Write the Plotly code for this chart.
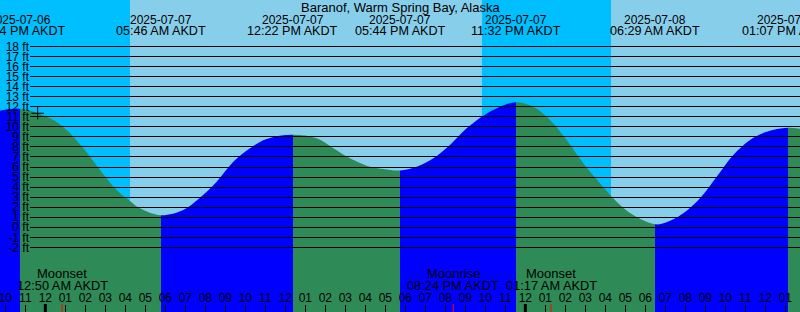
import plotly.graph_objects as go
import pandas as pd
import math

# ---------------- data ----------------
title_text = "Baranof, Warm Spring Bay, Alaska"
tz_label = "AKDT"
origin = "2025-07-07 00:00"
view_start = "2025-07-06 21:44"
view_end = "2025-07-08 13:44"

curve_times = [
    "2025-07-06 21:44", "2025-07-07 00:14", "2025-07-07 01:04", "2025-07-07 01:54",
    "2025-07-07 02:44", "2025-07-07 03:34", "2025-07-07 04:14", "2025-07-07 04:44",
    "2025-07-07 06:54", "2025-07-07 07:42", "2025-07-07 08:34", "2025-07-07 09:24",
    "2025-07-07 10:14", "2025-07-07 11:04", "2025-07-07 13:34", "2025-07-07 14:24",
    "2025-07-07 15:14", "2025-07-07 16:04", "2025-07-07 16:54", "2025-07-07 18:34",
    "2025-07-07 19:24", "2025-07-07 20:14", "2025-07-07 21:04", "2025-07-07 21:54",
    "2025-07-07 22:44", "2025-07-08 00:24", "2025-07-08 01:14", "2025-07-08 02:04",
    "2025-07-08 02:54", "2025-07-08 03:44", "2025-07-08 04:34", "2025-07-08 05:24",
    "2025-07-08 07:04", "2025-07-08 07:54", "2025-07-08 08:44", "2025-07-08 09:34",
    "2025-07-08 10:24", "2025-07-08 11:14", "2025-07-08 12:04", "2025-07-08 13:44",
]
curve_ft = [
    11.6, 10.85, 9.68, 7.86,
    5.7, 3.71, 2.62, 1.89,
    1.72, 2.88, 4.54, 6.53,
    7.86, 8.79, 8.85, 7.86,
    6.86, 6.13, 5.8, 6.03,
    6.86, 8.19, 9.85, 11.1,
    12.0, 12.0, 10.68, 8.69,
    6.37, 4.38, 2.55, 1.22,
    0.5, 1.39, 2.88, 5.03,
    7.19, 8.69, 9.51, 9.8,
]

extreme_times = [
    "2025-07-06 22:44", "2025-07-07 05:46", "2025-07-07 12:22", "2025-07-07 17:44",
    "2025-07-07 23:32", "2025-07-08 06:29", "2025-07-08 13:07",
]
extreme_ft = [11.8, 1.2, 9.2, 5.65, 12.45, 0.3, 9.9]

sun_times = ["2025-07-07 04:14", "2025-07-07 21:50", "2025-07-08 04:17"]
sun_events = ["Sunrise", "Sunset", "Sunrise"]

moon_times = ["2025-07-07 00:50", "2025-07-07 20:24", "2025-07-08 01:17"]
moon_events = ["Moonset", "Moonrise", "Moonset"]

now_time = "2025-07-06 23:37"
now_ft = 11.35

ft_levels = list(range(-2, 19))

# ---------------- styles ----------------
NIGHT = "#00BFFF"
DAY = "#87CEEB"
RISING = "#0000FF"
FALLING = "#2E8B57"
FONT = "Liberation Sans"
W, H = 800, 312

t0 = pd.Timestamp(origin)


def hrs(ts):
    return (pd.Timestamp(ts) - t0).total_seconds() / 3600.0


xs, xe = hrs(view_start), hrs(view_end)
y_lo, y_hi = -8.43, 22.62

# merge samples and extremes
pts = sorted([(hrs(t), v) for t, v in zip(curve_times, curve_ft)] +
             [(hrs(t), v) for t, v in zip(extreme_times, extreme_ft)])
px_ = [p[0] for p in pts]
py_ = [p[1] for p in pts]

# horizontal gradient with hard colour stops at each high / low
span = xe - xs
first_rising = extreme_ft[0] > extreme_ft[1]
col = RISING if first_rising else FALLING
cs = [[0.0, col]]
for t in extreme_times:
    p = (hrs(t) - xs) / span
    nxt = FALLING if col == RISING else RISING
    cs.append([p, col])
    cs.append([p, nxt])
    col = nxt
cs.append([1.0, col])

fig = go.Figure()
fig.add_trace(go.Scatter(x=[xs, xe], y=[-30, -30], mode="lines",
                         line=dict(width=0), hoverinfo="skip", showlegend=False))
fig.add_trace(go.Scatter(
    x=px_, y=py_, mode="lines", line=dict(width=0, shape="spline", smoothing=1.0),
    fill="tonexty",
    fillgradient=dict(type="horizontal", start=xs, stop=xe, colorscale=cs),
    hoverinfo="skip", showlegend=False))

fig.add_trace(go.Scatter(
    x=[hrs(now_time)], y=[now_ft], mode="markers",
    marker=dict(symbol="cross-thin", size=9, color="black",
                line=dict(color="black", width=1)),
    hoverinfo="skip", showlegend=False))

shapes = []
# sky bands
bounds = [xs] + [hrs(t) for t in sun_times] + [xe]
sky = NIGHT if sun_events[0] == "Sunrise" else DAY
for a, b in zip(bounds[:-1], bounds[1:]):
    shapes.append(dict(type="rect", xref="x", yref="paper", x0=a, x1=b, y0=0, y1=1,
                       fillcolor=sky, line=dict(width=0), layer="below"))
    sky = DAY if sky == NIGHT else NIGHT

tick_h = 8 / H
# midnight marks
for hh in range(math.ceil(xs), math.floor(xe) + 1):
    if hh % 24 == 0:
        shapes.append(dict(type="line", xref="x", yref="paper", x0=hh, x1=hh,
                           y0=0, y1=tick_h, line=dict(color="black", width=3),
                           layer="above"))
# moon marks
for t in moon_times:
    shapes.append(dict(type="line", xref="x", yref="paper", x0=hrs(t), x1=hrs(t),
                       y0=0, y1=tick_h, line=dict(color="red", width=1), layer="above"))

annotations = []


def ann(x, y, text, size, xref="x"):
    annotations.append(dict(x=x, y=y, xref=xref, yref="paper", text=text,
                            showarrow=False, xanchor="center", yanchor="middle",
                            font=dict(family=FONT, size=size, color="black")))


ann(0.5, 1 - 7.5 / H, title_text, 13, xref="paper")
for t in extreme_times:
    ts = pd.Timestamp(t)
    ann(hrs(t), 1 - 19.7 / H, ts.strftime("%Y-%m-%d"), 12)
    ann(hrs(t), 1 - 31.3 / H, ts.strftime("%I:%M %p ") + tz_label, 12.6)
for t, ev in zip(moon_times, moon_events):
    ts = pd.Timestamp(t)
    ann(hrs(t), 1 - 273.5 / H, ev, 13)
    ann(hrs(t), 1 - 285.0 / H, ts.strftime("%I:%M %p ") + tz_label, 12.8)

hour_vals = list(range(math.ceil(xs), math.floor(xe) + 1))
hour_text = [(t0 + pd.Timedelta(hours=h)).strftime("%I") for h in hour_vals]

fig.update_layout(
    width=W, height=H, margin=dict(l=0, r=0, t=0, b=0),
    paper_bgcolor=DAY, plot_bgcolor=DAY,
    shapes=shapes, annotations=annotations, showlegend=False,
    xaxis=dict(range=[xs, xe], anchor="free", position=tick_h, side="top",
               ticks="inside", ticklen=8, tickwidth=1, tickcolor="black",
               tickvals=hour_vals, ticktext=hour_text, ticklabeloverflow="allow",
               tickfont=dict(family=FONT, size=12, color="black"),
               showgrid=False, zeroline=False, showline=False, fixedrange=True),
    yaxis=dict(range=[y_lo, y_hi], anchor="free", position=29 / W, side="left",
               ticks="inside", ticklen=771, tickwidth=1, tickcolor="black",
               tickvals=ft_levels, ticktext=[f"{v} ft" for v in ft_levels],
               ticklabeloverflow="allow",
               tickfont=dict(family=FONT, size=12, color="black"),
               showgrid=False, zeroline=False, showline=False, fixedrange=True),
)

fig.write_html("out.html", config={"displayModeBar": False})
